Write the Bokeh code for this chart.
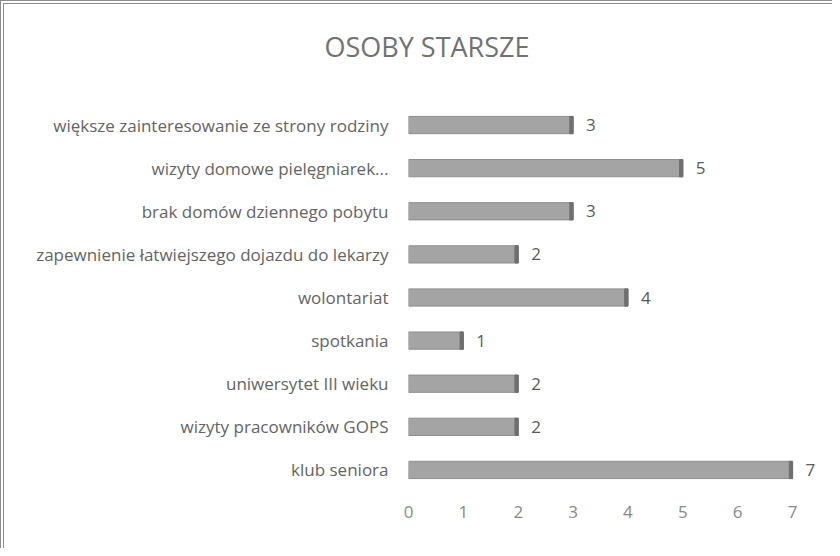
from bokeh.plotting import figure
from bokeh.models import Range1d, FixedTicker, Title, ColumnDataSource
from bokeh.core.properties import value
from bokeh.embed import file_html
from bokeh.resources import INLINE

title_text = "OSOBY STARSZE"
categories = [
    "większe zainteresowanie ze strony rodziny",
    "wizyty domowe pielęgniarek...",
    "brak domów dziennego pobytu",
    "zapewnienie łatwiejszego dojazdu do lekarzy",
    "wolontariat",
    "spotkania",
    "uniwersytet III wieku",
    "wizyty pracowników GOPS",
    "klub seniora",
]
values = [3, 5, 3, 2, 4, 1, 2, 2, 7]
x_ticks = [0, 1, 2, 3, 4, 5, 6, 7]

n = len(categories)
ypos = [n - 1 - i for i in range(n)]
src = ColumnDataSource(dict(
    y=ypos,
    v=values,
    cap_left=[v - 0.06 for v in values],
    lbl=[str(v) for v in values],
))

FONT = "Open Sans"

p = figure(width=832, height=548, output_backend="svg", toolbar_location=None,
           x_range=Range1d(0, 7.6), y_range=Range1d(-0.5, n - 0.5),
           min_border_left=408, min_border_right=7, min_border_top=103,
           min_border_bottom=57, title=None)
p.outline_line_color = None
p.background_fill_color = "white"
p.border_fill_alpha = 0
p.grid.grid_line_color = None
p.styles = {"background-color": "white",
            "box-shadow": "inset 1px 1px 0 #8c8c8c, inset 3px 3px 0 #ffffff, inset 4px 4px 0 #8c8c8c"}

p.hbar(y="y", left=0, right="v", height=0.4, source=src,
       fill_color="#a4a4a4", line_color="#8e8e8e", line_width=1)
p.hbar(y="y", left="cap_left", right="v", height=0.4, source=src,
       fill_color="#6f6f6f", line_color="#6f6f6f")
p.text(x="v", y="y", text="lbl", source=src, x_offset=13,
       text_baseline="middle", text_align="left",
       text_font=value(FONT), text_font_size="17px", text_color="#5a5a5a")

p.xaxis.ticker = FixedTicker(ticks=x_ticks)
p.yaxis.ticker = FixedTicker(ticks=ypos)
p.yaxis.major_label_overrides = {y: c for y, c in zip(ypos, categories)}
for ax in (p.xaxis[0], p.yaxis[0]):
    ax.axis_line_color = None
    ax.major_tick_line_color = None
    ax.minor_tick_line_color = None
    ax.major_tick_out = 0
    ax.major_label_text_font = FONT
    ax.major_label_text_color = "#646464"
p.yaxis.major_label_standoff = 20
p.yaxis.major_label_text_font_size = "17px"
p.xaxis.major_label_text_font_size = "17px"
p.xaxis.major_label_text_color = "#8a8a8a"
p.xaxis.major_label_standoff = 14

# spacer keeps the title well above the plot area (first added = nearest the frame)
p.add_layout(Title(text=" ", text_font_size="30px", standoff=0), "above")
p.add_layout(Title(text=title_text, align="left", offset=-84, standoff=8,
                   text_font=FONT, text_font_size="27px", text_font_style="normal",
                   text_color="#727272"), "above")

open("out.html", "w").write(file_html(p, INLINE))
